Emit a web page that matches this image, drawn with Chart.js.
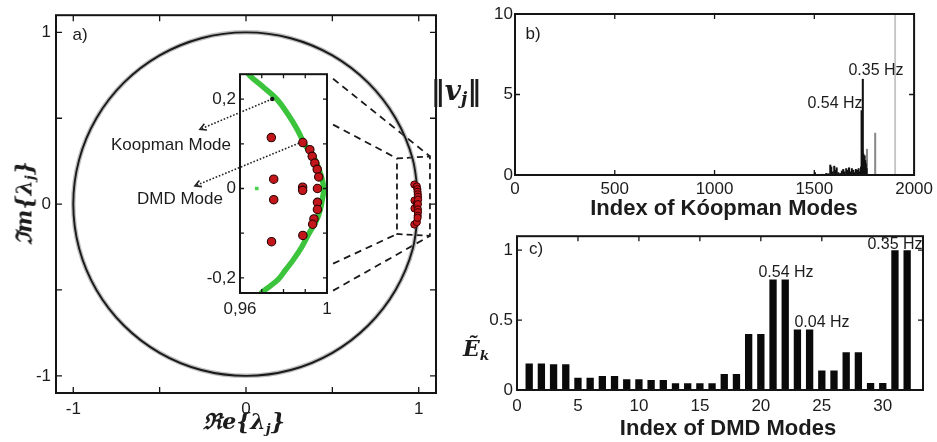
<!DOCTYPE html>
<html>
<head>
<meta charset="utf-8">
<script src="https://cdn.jsdelivr.net/npm/chart.js@4/dist/chart.umd.min.js"></script>
<style>
  html, body { margin: 0; padding: 0; background: #fff; }
  body { width: 937px; height: 442px; position: relative; overflow: hidden;
         font-family: "Liberation Sans", Arial, sans-serif; color: #1c1c1c; }
  canvas { position: absolute; display: block; }
  .t { position: absolute; white-space: nowrap; line-height: 1; transform: translate(-50%, -50%); }
  .tag { font-size: 17px; }
  .hz { font-size: 16px; }
  .ttl { font-size: 22px; font-weight: bold; }
  .math { font-family: "DejaVu Serif", serif; font-style: italic; font-weight: bold; }
  .math sub { font-size: 62%; vertical-align: -0.25em; }
</style>
</head>
<body>
<canvas id="cA" width="470" height="442" style="left:0;top:0"></canvas>
<canvas id="cI" width="160" height="262" style="left:180px;top:60px"></canvas>
<canvas id="cB" width="467" height="220" style="left:470px;top:0"></canvas>
<canvas id="cC" width="467" height="220" style="left:470px;top:222px"></canvas>

<div class="t tag" style="left:80px;top:34px">a)</div>
<div class="t tag" style="left:533px;top:33px">b)</div>
<div class="t tag" style="left:536px;top:248px">c)</div>

<div class="t tag" style="left:171px;top:144px">Koopman Mode</div>
<div class="t tag" style="left:180px;top:198px">DMD Mode</div>

<div class="t math" style="left:25px;top:203px;font-size:22px;transform:translate(-50%,-50%) rotate(-90deg)">ℑm{λ<sub>j</sub>}</div>
<div class="t math" style="left:244px;top:423px;font-size:22px">ℜe{λ<sub>j</sub>}</div>
<div class="t math" style="left:456px;top:92px;font-size:28px">‖v<sub>j</sub>‖</div>
<div class="t math" style="left:476px;top:350px;font-size:22px">Ẽ<sub>k</sub></div>

<div class="t ttl" style="left:724px;top:208px">Index of Kóopman Modes</div>
<div class="t ttl" style="left:728px;top:428px">Index of DMD Modes</div>

<div class="t hz" style="left:876px;top:70px">0.35 Hz</div>
<div class="t hz" style="left:835px;top:103px">0.54 Hz</div>
<div class="t hz" style="left:786px;top:272px">0.54 Hz</div>
<div class="t hz" style="left:822px;top:322px">0.04 Hz</div>
<div class="t hz" style="left:895px;top:244px">0.35 Hz</div>

<script>
// ---------- panel a: eigenvalues in the complex plane ----------
// Koopman eigenvalues around the unit circle (points along the ring)
const ringRe = [1, 0.966, 0.866, 0.707, 0.5, 0.259, 0, -0.259, -0.5, -0.707, -0.866, -0.966, -1,
                -0.966, -0.866, -0.707, -0.5, -0.259, 0, 0.259, 0.5, 0.707, 0.866, 0.966, 1];
const ringIm = [0, 0.259, 0.5, 0.707, 0.866, 0.966, 1, 0.966, 0.866, 0.707, 0.5, 0.259, 0,
                -0.259, -0.5, -0.707, -0.866, -0.966, -1, -0.966, -0.866, -0.707, -0.5, -0.259, 0];

// DMD eigenvalues (red circles)
const dmdRe = [0.9744, 0.9755, 0.9755, 0.9745, 0.9889, 0.9888, 0.9888, 0.9889, 0.9921, 0.9932,
               0.9944, 0.9955, 0.9962, 0.9956, 0.9956, 0.9956, 0.9940, 0.9934];
const dmdIm = [0.114, 0.021, -0.025, -0.119, 0.103, 0.003, -0.004, -0.105, 0.087, 0.072,
               0.057, 0.043, 0.026, 0.0, -0.031, -0.047, -0.068, -0.080];

// Koopman eigenvalues close to 1 (green band of the zoomed view)
const koopRe = [0.9630, 0.9649, 0.9712, 0.9773, 0.9822, 0.9861, 0.9899, 0.9925, 0.9949, 0.9972,
                0.9985, 0.9978, 0.9968, 0.9948, 0.9918, 0.9885, 0.9846, 0.9810, 0.9777, 0.9740,
                0.9702, 0.9690];
const koopIm = [0.262, 0.251, 0.225, 0.198, 0.165, 0.134, 0.098, 0.080, 0.061, 0.030,
                0.000, -0.025, -0.049, -0.075, -0.100, -0.130, -0.159, -0.182, -0.203, -0.218,
                -0.232, -0.240];
const koopLoneRe = [0.9677];
const koopLoneIm = [0.0];
const koopMarkRe = [0.9748];
const koopMarkIm = [0.2005];

const aTickLabels = [-1, 0, 1];
const insetXTicks = [0.96, 1];
const insetXText = ['0,96', '1'];
const insetYTicks = [0.2, 0, -0.2];
const insetYText = ['0,2', '0', '-0,2'];

// zoom-window guide lines (main-plane coordinates)
const guideFrom = [[0.504, 0.730], [0.504, 0.463], [0.504, -0.347], [0.504, -0.504]];
const guideTo   = [[1.065, 0.278], [0.874, 0.266], [0.874, -0.174], [1.065, -0.185]];
const windowRe = [0.874, 1.065, 1.065, 0.874, 0.874];
const windowIm = [0.266, 0.278, -0.185, -0.174, 0.266];

// pointer arrows in the zoomed view (zoomed-view coordinates)
const arrowFrom = [[0.9748, 0.2005], [0.9871, 0.1016]];
const arrowTo   = [[0.9416, 0.1327], [0.9393, 0.0060]];

// ---------- panel b: Koopman mode norms ----------
const koopIdx  = [1503, 1540, 1560, 1570, 1580, 1585, 1592, 1600, 1606, 1612, 1620, 1630, 1638,
                  1645, 1652, 1660, 1667, 1674, 1680, 1688, 1695, 1702, 1708, 1715, 1722, 1728,
                  1734, 1737, 1740, 1743, 1746, 1749, 1752, 1755, 1758, 1762];
const koopNorm = [0.15, 0.05, 0.10, 0.08, 0.62, 0.50, 0.20, 0.55, 0.30, 0.45, 0.15, 0.10, 0.25,
                  0.35, 0.20, 0.40, 0.30, 0.45, 0.20, 0.40, 0.30, 0.15, 0.35, 0.30, 0.40, 0.20,
                  0.50, 4.00, 1.50, 5.95, 1.30, 1.00, 1.20, 0.90, 0.70, 0.40];
const koopGrayIdx  = [1764, 1805];
const koopGrayNorm = [1.6, 2.6];
const koopFaintIdx  = [1905];
const koopFaintNorm = [10];
const bXTicks = [0, 500, 1000, 1500, 2000];
const bYTicks = [0, 5, 10];

// ---------- panel c: normalised DMD mode energy ----------
const dmdIndex  = [1, 2, 3, 4, 5, 6, 7, 8, 9, 10, 11, 12, 13, 14, 15, 16,
                   17, 18, 19, 20, 21, 22, 23, 24, 25, 26, 27, 28, 29, 30, 31, 32];
const dmdEnergy = [0.19, 0.19, 0.185, 0.185, 0.088, 0.088, 0.10, 0.10, 0.076, 0.076, 0.071, 0.071,
                   0.048, 0.048, 0.048, 0.048, 0.114, 0.114, 0.40, 0.40, 0.79, 0.79, 0.433, 0.433,
                   0.14, 0.14, 0.27, 0.27, 0.05, 0.05, 1.0, 1.0];
const cXTicks = [0, 5, 10, 15, 20, 25, 30];
const cYTicks = [0, 0.5, 1];

// ---------- helpers ----------
Chart.defaults.font.family = "'Liberation Sans', Arial, sans-serif";
Chart.defaults.color = '#1c1c1c';
Chart.defaults.animation = false;

const pts = (xs, ys) => xs.map((v, i) => ({ x: v, y: ys[i] }));
const near = (a, b) => Math.abs(a - b) < 1e-7;

// box with inward tick marks on all four sides
const frameTicks = {
  id: 'frameTicks',
  beforeDraw(chart, args, o) {
    if (!o.fill) return;
    const a = chart.chartArea, ctx = chart.ctx;
    ctx.save(); ctx.fillStyle = o.fill;
    ctx.fillRect(a.left, a.top, a.width, a.height); ctx.restore();
  },
  afterDraw(chart, args, o) {
    const { ctx, chartArea: a, scales } = chart;
    const L = o.len || 5;
    ctx.save();
    ctx.strokeStyle = '#141414';
    ctx.lineWidth = 1.3;
    ctx.beginPath();
    scales.x.ticks.forEach(t => {
      const p = scales.x.getPixelForValue(t.value);
      ctx.moveTo(p, a.bottom); ctx.lineTo(p, a.bottom - L);
      ctx.moveTo(p, a.top); ctx.lineTo(p, a.top + L);
    });
    scales.y.ticks.forEach(t => {
      const p = scales.y.getPixelForValue(t.value);
      ctx.moveTo(a.left, p); ctx.lineTo(a.left + L, p);
      ctx.moveTo(a.right, p); ctx.lineTo(a.right - L, p);
    });
    ctx.stroke();
    ctx.lineWidth = o.border || 2;
    ctx.strokeRect(a.left, a.top, a.width, a.height);
    ctx.restore();
  }
};

// axis frame from canvas box and plot-area edges (page pixels)
function axes(box, area, x, y) {
  const font = { size: 17 };
  return {
    padding: { left: 0, top: area.t - box.t, right: box.l + box.w - area.r, bottom: 0 },
    scales: {
      x: Object.assign({
        type: 'linear', offset: false,
        grid: { display: false, drawTicks: false, offset: false }, border: { display: false },
        afterFit(s) { s.height = box.t + box.h - area.b; },
      }, x, { ticks: Object.assign({ includeBounds: false, autoSkip: false, maxRotation: 0, font, color: '#1c1c1c' }, x.ticks) }),
      y: Object.assign({
        type: 'linear',
        grid: { display: false, drawTicks: false }, border: { display: false },
        afterFit(s) { s.width = area.l - box.l; },
      }, y, { ticks: Object.assign({ includeBounds: false, autoSkip: false, font, color: '#1c1c1c' }, y.ticks) })
    }
  };
}
const onlyAt = (vals, texts) => (v) => {
  const i = vals.findIndex(u => near(u, v));
  return i < 0 ? '' : (texts ? texts[i] : String(vals[i]));
};

// ---------- panel a ----------
(() => {
  const ax = axes({ l: 0, t: 0, w: 470, h: 442 }, { l: 56, t: 13, r: 436, b: 393 },
    { min: -1.1, max: 1.1, ticks: { stepSize: 0.5, padding: 6, callback: onlyAt(aTickLabels) } },
    { min: -1.1, max: 1.1, ticks: { stepSize: 0.5, padding: 5, callback: onlyAt(aTickLabels) } });
  const guides = guideFrom.map((p, i) => ({
    data: [{ x: p[0], y: p[1] }, { x: guideTo[i][0], y: guideTo[i][1] }],
    showLine: true, borderColor: '#1a1a1a', borderWidth: 1.8, borderDash: [7, 5],
    pointRadius: 0, order: 3
  }));
  new Chart(document.getElementById('cA'), {
    type: 'scatter',
    data: {
      datasets: [
        { data: pts(dmdRe, dmdIm), pointRadius: 3.6, pointBackgroundColor: '#c2161b',
          pointBorderColor: '#3a0000', pointBorderWidth: 1, order: 0 },
        { data: pts(ringRe, ringIm), showLine: true, tension: 0.34, borderColor: '#1a1a1a',
          borderWidth: 1.9, pointRadius: 0, order: 1 },
        { data: pts(ringRe, ringIm), showLine: true, tension: 0.34, borderColor: 'rgba(110,110,110,0.45)',
          borderWidth: 4.5, pointRadius: 0, order: 2 },
        { data: pts(windowRe, windowIm), showLine: true, borderColor: '#1a1a1a', borderWidth: 1.8,
          borderDash: [6, 4], pointRadius: 0, order: 3 },
        ...guides
      ]
    },
    options: {
      responsive: false, events: [],
      layout: { padding: ax.padding },
      scales: ax.scales,
      plugins: { legend: { display: false }, tooltip: { enabled: false }, frameTicks: { len: 6 } }
    },
    plugins: [frameTicks]
  });
})();

// ---------- zoomed view near lambda = 1 ----------
const modeArrows = {
  id: 'modeArrows',
  afterDraw(chart) {
    const { ctx, scales: { x, y } } = chart;
    ctx.save();
    ctx.strokeStyle = '#222'; ctx.lineWidth = 1.6;
    arrowFrom.forEach((f, i) => {
      const x0 = x.getPixelForValue(f[0]), y0 = y.getPixelForValue(f[1]);
      const x1 = x.getPixelForValue(arrowTo[i][0]), y1 = y.getPixelForValue(arrowTo[i][1]);
      ctx.setLineDash([1.6, 1.8]);
      ctx.beginPath(); ctx.moveTo(x0, y0); ctx.lineTo(x1, y1); ctx.stroke();
      const ang = Math.atan2(y1 - y0, x1 - x0), h = 7;
      ctx.setLineDash([]);
      ctx.beginPath();
      ctx.moveTo(x1 - h * Math.cos(ang - 0.5), y1 - h * Math.sin(ang - 0.5));
      ctx.lineTo(x1, y1);
      ctx.lineTo(x1 - h * Math.cos(ang + 0.5), y1 - h * Math.sin(ang + 0.5));
      ctx.stroke();
    });
    ctx.restore();
  }
};
(() => {
  const ax = axes({ l: 180, t: 60, w: 160, h: 262 }, { l: 240, t: 72, r: 327, b: 293 },
    { min: 0.96, max: 1.0, ticks: { stepSize: 0.01, padding: 6, callback: onlyAt(insetXTicks, insetXText) } },
    { min: -0.234, max: 0.256, ticks: { stepSize: 0.1, padding: 4, callback: onlyAt(insetYTicks, insetYText) } });
  new Chart(document.getElementById('cI'), {
    type: 'scatter',
    data: {
      datasets: [
        { data: pts(dmdRe, dmdIm), pointRadius: 4.2, pointBackgroundColor: '#c2161b',
          pointBorderColor: '#2a0000', pointBorderWidth: 1.1, order: 0 },
        { data: pts(koopMarkRe, koopMarkIm), pointRadius: 2.2, pointBackgroundColor: '#111',
          pointBorderWidth: 0, order: 1 },
        { data: pts(koopLoneRe, koopLoneIm), pointStyle: 'rect', pointRadius: 2.6,
          pointBackgroundColor: '#4cd14c', pointBorderWidth: 0, order: 2 },
        { data: pts(koopRe, koopIm), showLine: true, tension: 0.4, borderColor: '#3cc43c',
          borderWidth: 5.5, pointRadius: 0, order: 3 }
      ]
    },
    options: {
      responsive: false, events: [],
      layout: { padding: ax.padding },
      scales: ax.scales,
      plugins: { legend: { display: false }, tooltip: { enabled: false },
                 frameTicks: { len: 4, fill: '#fff', border: 2 } }
    },
    plugins: [frameTicks, modeArrows]
  });
})();

// ---------- panel b ----------
(() => {
  const ax = axes({ l: 470, t: 0, w: 467, h: 220 }, { l: 515, t: 14, r: 915, b: 175 },
    { min: 0, max: 2000, ticks: { stepSize: 500, padding: 4, callback: onlyAt(bXTicks) } },
    { min: 0, max: 10, ticks: { stepSize: 5, padding: 2, callback: onlyAt(bYTicks) } });
  new Chart(document.getElementById('cB'), {
    type: 'bar',
    data: {
      datasets: [
        { data: pts(koopIdx, koopNorm), backgroundColor: '#111', barThickness: 1.4 },
        { data: pts(koopGrayIdx, koopGrayNorm), backgroundColor: '#8a8a8a', barThickness: 1.4 },
        { data: pts(koopFaintIdx, koopFaintNorm), backgroundColor: '#c4c4c4', barThickness: 1.2 }
      ]
    },
    options: {
      responsive: false, events: [],
      layout: { padding: ax.padding },
      scales: ax.scales,
      datasets: { bar: { grouped: false } },
      plugins: { legend: { display: false }, tooltip: { enabled: false }, frameTicks: { len: 5 } }
    },
    plugins: [frameTicks]
  });
})();

// ---------- panel c ----------
(() => {
  const ax = axes({ l: 470, t: 222, w: 467, h: 220 }, { l: 517, t: 235, r: 923, b: 390 },
    { min: 0, max: 33.3, ticks: { stepSize: 5, padding: 6, callback: onlyAt(cXTicks) } },
    { min: 0, max: 1.1, ticks: { stepSize: 0.5, padding: 4, callback: onlyAt(cYTicks) } });
  new Chart(document.getElementById('cC'), {
    type: 'bar',
    data: {
      datasets: [
        { data: pts(dmdIndex, dmdEnergy), backgroundColor: '#0a0a0a',
          barPercentage: 0.6, categoryPercentage: 1.0 }
      ]
    },
    options: {
      responsive: false, events: [],
      layout: { padding: ax.padding },
      scales: ax.scales,
      plugins: { legend: { display: false }, tooltip: { enabled: false }, frameTicks: { len: 5 } }
    },
    plugins: [frameTicks]
  });
})();
</script>
</body>
</html>
